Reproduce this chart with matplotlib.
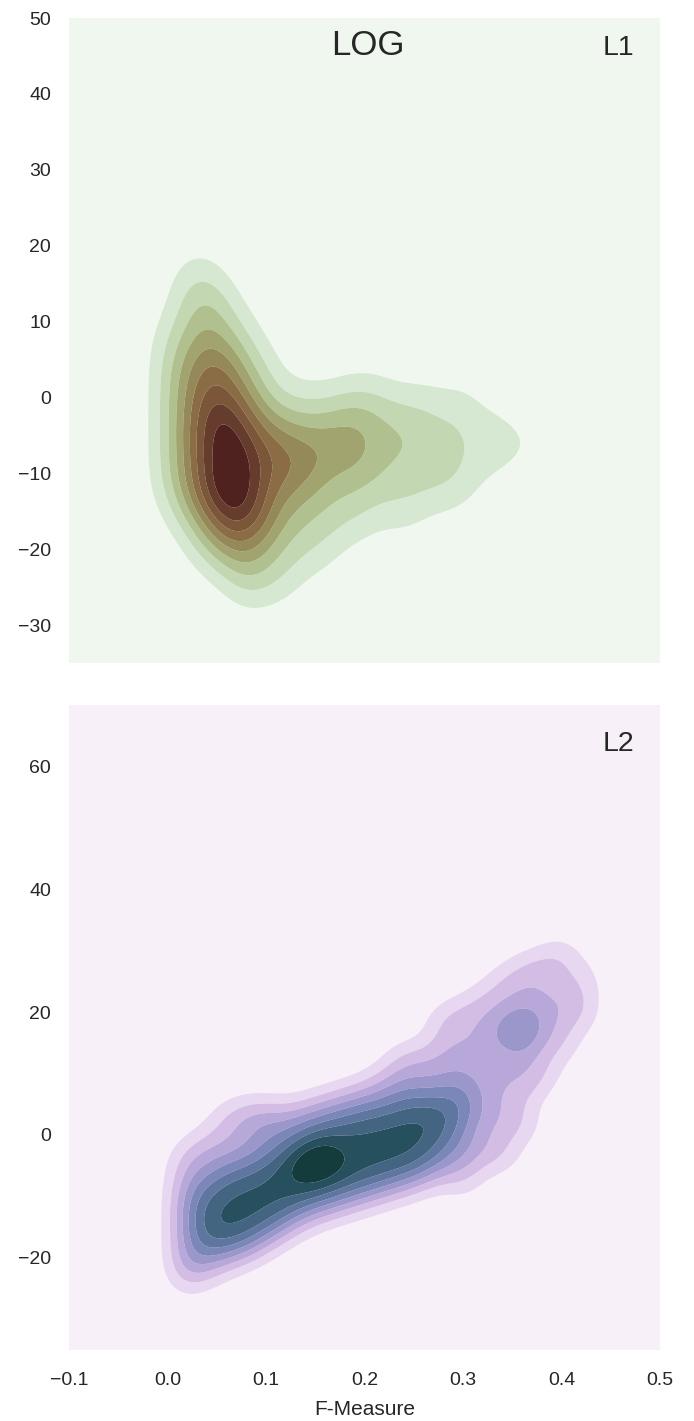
import numpy as np
import matplotlib
matplotlib.use('Agg')
import matplotlib.pyplot as plt

# ---- L1 panel samples (F-Measure vs score), grouped by score row ----
l1_rows_y = [16, 12, 8, 4, 0, -4, -6, -8, -12, -16, -20, -24]
l1_rows_x = [
    [0.02, 0.04],
    [0.02, 0.04, 0.04, 0.06],
    [0.00, 0.02, 0.04, 0.04, 0.06, 0.08],
    [0.00, 0.02, 0.02, 0.04, 0.04, 0.04, 0.06, 0.06, 0.06, 0.08, 0.10],
    [0.00, 0.02, 0.02, 0.04, 0.04, 0.04, 0.06, 0.06, 0.06, 0.08, 0.08, 0.10,
     0.14, 0.18, 0.20, 0.22, 0.26, 0.30],
    [0.00, 0.02, 0.02, 0.04, 0.04, 0.04, 0.04, 0.06, 0.06, 0.06, 0.06, 0.06,
     0.08, 0.08, 0.08, 0.10, 0.10, 0.12, 0.12, 0.14, 0.16, 0.16, 0.18, 0.18,
     0.20, 0.20, 0.22, 0.24, 0.24, 0.26, 0.28, 0.30, 0.33],
    [0.35, 0.38],
    [0.00, 0.02, 0.02, 0.04, 0.04, 0.04, 0.06, 0.06, 0.06, 0.06, 0.08, 0.08,
     0.08, 0.08, 0.10, 0.10, 0.10, 0.12, 0.12, 0.12, 0.14, 0.14, 0.14, 0.16,
     0.16, 0.18, 0.18, 0.20, 0.20, 0.22, 0.24, 0.26, 0.28, 0.30, 0.33],
    [0.00, 0.02, 0.02, 0.04, 0.04, 0.04, 0.04, 0.06, 0.06, 0.06, 0.06, 0.06,
     0.08, 0.08, 0.08, 0.08, 0.10, 0.10, 0.12, 0.12, 0.14, 0.14, 0.16, 0.18,
     0.20, 0.22, 0.24, 0.26, 0.28, 0.30],
    [0.02, 0.04, 0.04, 0.06, 0.06, 0.06, 0.06, 0.08, 0.08, 0.08, 0.08, 0.10,
     0.10, 0.10, 0.12, 0.14, 0.16, 0.18, 0.20, 0.24],
    [0.04, 0.06, 0.06, 0.08, 0.08, 0.10, 0.12, 0.14, 0.16],
    [0.08, 0.08, 0.10, 0.12],
]

# ---- L2 panel samples, grouped by F-Measure column ----
l2_cols_x = [0.02, 0.04, 0.06, 0.08, 0.10, 0.12, 0.14, 0.16, 0.18, 0.20, 0.22,
             0.24, 0.26, 0.28, 0.30, 0.32, 0.34, 0.36, 0.38, 0.40, 0.42]
l2_cols_y = [
    [-23, -20, -17, -14, -11, -8, -4],
    [-21, -18, -16, -14, -12, -10, -7, -2],
    [-19, -17, -15, -13, -11, -9, -7, -4, 2],
    [-18, -16, -14, -12, -10, -8, -6, -2, 3],
    [-16, -14, -12, -10, -8, -6, -4, 0, 3],
    [-14, -12, -10, -8, -6, -4, -2, 2],
    [-12, -10, -8, -6, -5, -4, -2, 0, 3],
    [-11, -9, -7, -5, -4, -3, -1, 1, 4],
    [-10, -8, -6, -4, -2, 0, 2, 5],
    [-9, -7, -5, -3, -1, 1, 3, 6],
    [-8, -6, -4, -2, 0, 2, 4, 8],
    [-7, -5, -3, -1, 1, 3, 5, 8, 12],
    [-6, -4, -2, 0, 2, 4, 6, 11],
    [-4, -1, 1, 3, 5, 8, 13, 18],
    [-7, -3, 1, 4, 6, 9, 13, 19],
    [-2, 4, 9, 15, 21],
    [-3, 3, 9, 15, 18, 24],
    [2, 8, 13, 16, 18, 20, 26],
    [10, 17, 22, 27],
    [15, 21, 29],
    [20, 25],
]

l1_colors = ['#f0f7ef', '#d6e8d1', '#c2d7b2', '#b0c18f', '#a2a470',
             '#95895a', '#8a6c45', '#7b5639', '#663d2c', '#4f2220']
l2_colors = ['#f7f0f9', '#e8d7f0', '#d3bde4', '#b8a8da', '#9b97cb',
             '#7b87b8', '#5f76a0', '#436582', '#27505f', '#153c3c']

l1_x = np.array([x for row, y in zip(l1_rows_x, l1_rows_y) for x in row])
l1_y = np.array([y for row, y in zip(l1_rows_x, l1_rows_y) for x in row], float)
l2_x = np.array([x for x, col in zip(l2_cols_x, l2_cols_y) for y in col])
l2_y = np.array([y for x, col in zip(l2_cols_x, l2_cols_y) for y in col], float)

TEXT = '#262626'
plt.rcParams['font.family'] = ['Liberation Sans', 'DejaVu Sans']
plt.rcParams['text.color'] = TEXT
plt.rcParams['axes.labelcolor'] = TEXT
plt.rcParams['xtick.color'] = TEXT
plt.rcParams['ytick.color'] = TEXT


def kde(xs, ys, bw_x, bw_y, xlim, ylim, n=320):
    gx = np.linspace(xlim[0], xlim[1], n)
    gy = np.linspace(ylim[0], ylim[1], n)
    X, Y = np.meshgrid(gx, gy)
    Z = np.zeros_like(X)
    for x, y in zip(xs, ys):
        Z += np.exp(-0.5 * (((X - x) / bw_x) ** 2 + ((Y - y) / bw_y) ** 2))
    return X, Y, Z / Z.max()


def panel(ax, xs, ys, bw, ylim, colors):
    X, Y, Z = kde(xs, ys, bw[0], bw[1], (-0.1, 0.5), ylim)
    levels = np.linspace(0, 1, 11)
    levels[0] = -0.01
    levels[-1] = 1.01
    ax.set_facecolor(colors[0])
    ax.contourf(X, Y, Z, levels=levels, colors=colors, antialiased=True)
    ax.set_xlim(-0.1, 0.5)
    ax.set_ylim(*ylim)
    for s in ax.spines.values():
        s.set_visible(False)
    ax.tick_params(length=0, labelsize=14)
    ax.tick_params(axis='y', pad=13)
    ax.tick_params(axis='x', pad=16)


fig = plt.figure(figsize=(6.94, 14.21), dpi=100)
ax1 = fig.add_axes([0.0994, 0.5334, 0.8516, 0.4539])
ax2 = fig.add_axes([0.0994, 0.0500, 0.8516, 0.4539])

panel(ax1, l1_x, l1_y, (0.02, 3.6), (-35, 50), l1_colors)
panel(ax2, l2_x, l2_y, (0.018, 3.0), (-35, 70), l2_colors)

ax1.set_yticks(np.arange(-30, 51, 10))
ax1.set_xticks(np.arange(-0.1, 0.51, 0.1))
ax1.set_xticklabels([])
ax2.set_yticks(np.arange(-20, 61, 20))
ax2.set_xticks(np.arange(-0.1, 0.51, 0.1))
ax2.set_xticklabels(['\u22120.1', '0.0', '0.1', '0.2', '0.3', '0.4', '0.5'])
ax2.set_xlabel('F-Measure', fontsize=15, labelpad=8)

ax1.text(0.506, 0.957, 'LOG', transform=ax1.transAxes, fontsize=25,
         ha='center', va='center')
ax1.text(0.93, 0.953, 'L1', transform=ax1.transAxes, fontsize=20.5,
         ha='center', va='center')
ax2.text(0.93, 0.94, 'L2', transform=ax2.transAxes, fontsize=20.5,
         ha='center', va='center')

fig.savefig('out.png', dpi=100)
